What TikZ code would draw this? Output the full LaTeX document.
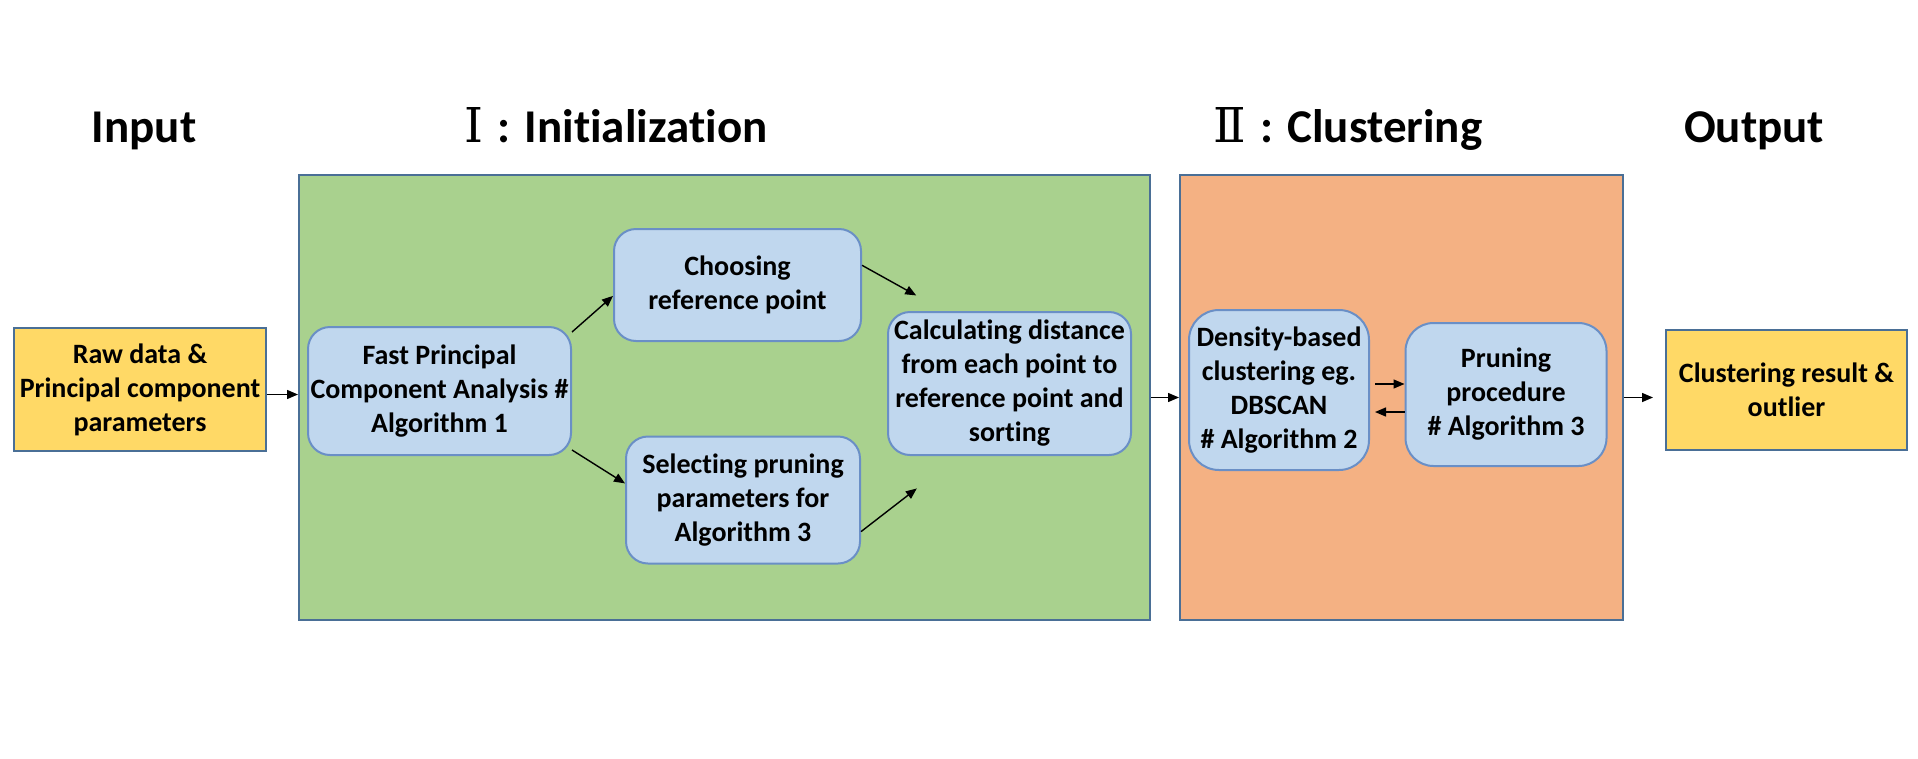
\documentclass[tikz,border=0pt]{standalone}
\usepackage{fontspec}
\setmainfont{Carlito}[Ligatures=NoCommon]
\newfontfamily\romfont{DejaVu Serif}
\usepackage{xcolor}
\usetikzlibrary{positioning,calc,arrows.meta}

\definecolor{initgreen}{HTML}{A9D18E}
\definecolor{clustorange}{HTML}{F4B183}
\definecolor{ioyellow}{HTML}{FFD966}
\definecolor{stepblue}{HTML}{C0D7EE}
\definecolor{frameedge}{HTML}{4A6F96}
\definecolor{stepedge}{HTML}{6A8FC6}

\newcommand{\stagenum}[1]{{\romfont\mdseries\fontsize{48}{56}\selectfont #1}\hspace{14pt}}

\tikzset{
  frame/.style={draw=frameedge, line width=2pt, inner sep=0pt},
  iobox/.style={draw=frameedge, fill=ioyellow, line width=2pt, align=center,
    inner sep=0pt, font=\fontsize{28}{34}\selectfont\bfseries},
  algbox/.style={draw=stepedge, fill=stepblue, rounded corners=22pt, line width=2pt,
    align=center, inner sep=0pt, font=\fontsize{28}{34}\selectfont\bfseries},
  title/.style={anchor=base, font=\fontsize{47}{56}\selectfont\bfseries},
  flow/.style={-{Triangle[length=11pt,width=9pt]}, line width=1.4pt},
}

\begin{document}
\begin{tikzpicture}[x=1pt,y=-1pt]
    \useasboundingbox (0,0) rectangle (1918,758);

    % Titles
    \node[title] (tin) at (144,142) {Input};
    \node[title] (tinit) at (616,142) {\stagenum{Ⅰ}: Initialization};
    \node[title] (tclust) at (1348,142) {\stagenum{Ⅱ}: Clustering};
    \node[title] (tout) at (1754,142) {Output};

    % Stage frames
    \node[frame, fill=initgreen, minimum width=851pt, minimum height=445pt] (init) at (724.5,397.5) {};
    \node[frame, fill=clustorange, minimum width=443pt, minimum height=445pt] (clust) at (1401.5,397.5) {};

    % Input and output
    \node[iobox, minimum width=252pt, minimum height=123pt] (raw) at (140,389.5)
        {Raw data \&\\Principal component\\parameters};
    \node[iobox, minimum width=241pt, minimum height=120pt] (result) at (1786.5,390)
        {Clustering result \&\\outlier};

    % Initialization steps
    \node[algbox, minimum width=263pt, minimum height=128pt] (fpca) at (439.5,391)
        {Fast Principal\\Component Analysis \#\\Algorithm 1};
    \node[algbox, minimum width=247pt, minimum height=112pt] (choose) at (737.5,285)
        {Choosing\\reference point};
    \node[algbox, minimum width=234pt, minimum height=127pt] (select) at (743,500)
        {Selecting pruning\\parameters for\\Algorithm 3};
    \node[algbox, minimum width=243pt, minimum height=143pt] (calc) at (1009.5,383.5)
        {Calculating distance\\from each point to\\reference point and\\sorting};

    % Clustering steps
    \node[algbox, rounded corners=30pt, minimum width=180pt, minimum height=160pt] (dens) at (1279,390)
        {Density-based\\clustering eg.\\DBSCAN\\\# Algorithm 2};
    \node[algbox, rounded corners=28pt, minimum width=201pt, minimum height=143pt] (prune) at (1506,394.5)
        {Pruning\\procedure\\\# Algorithm 3};

    % Arrows
    \draw[flow] ([yshift=-5pt]raw.east) -- ([yshift=-5pt]raw.east -| init.west);
    \draw[flow] (fpca.24) -- (choose.185);
    \draw[flow] (fpca.-24) -- (select.172);
    \draw[flow, shorten >=32pt] (choose.9) -- (calc.132);
    \draw[flow, shorten >=53pt] (select.-15) -- (calc.235);
    \draw[flow] (init.east) -- (clust.west);
    \draw[flow, shorten <=5pt] ([yshift=6pt]dens.east) -- ([yshift=6pt]dens.east -| prune.west);
    \draw[flow, shorten >=5pt] ([yshift=-22pt]dens.east -| prune.west) -- ([yshift=-22pt]dens.east);
    \draw[flow, shorten >=12pt] (clust.east) -- (clust.east -| result.west);
\end{tikzpicture}
\end{document}
